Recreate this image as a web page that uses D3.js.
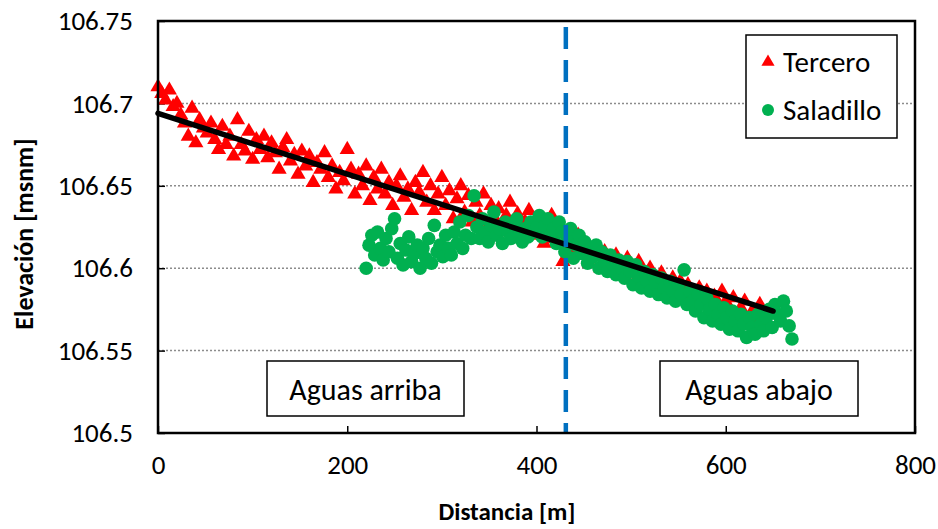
<!DOCTYPE html>
<html>
<head>
<meta charset="utf-8">
<script src="https://cdn.jsdelivr.net/npm/d3@7"></script>
<style>
  html, body { margin: 0; padding: 0; background: #fff; }
  svg text { font-family: Carlito, Lato, "Liberation Sans", sans-serif; fill: #000; }
</style>
</head>
<body>
<svg id="chart" width="938" height="529"></svg>
<script>
// Perfil de elevación: Tercero y Saladillo
const xTicks = [0, 200, 400, 600, 800];
const yTicks = [106.5, 106.55, 106.6, 106.65, 106.7, 106.75];

const terceroDist = [
  0,4,8,12,16,20,24,28,32,36,
  40,44,48,52,56,60,64,68,72,76,
  80,84,88,92,96,100,104,108,112,116,
  120,124,128,132,136,140,144,148,152,156,
  160,164,168,172,176,180,184,188,192,196,
  200,204,208,212,216,220,224,228,232,236,
  240,244,248,252,256,260,264,268,272,276,
  280,284,288,292,296,300,304,308,312,316,
  320,324,328,332,336,340,344,348,352,356,
  360,364,368,372,376,380,384,388,392,396,
  400,404,408,412,416,420,424,428,432,436,
  440,444,448,452,456,460,464,468,472,476,
  480,484,488,492,496,500,504,508,512,516,
  520,524,528,532,536,540,544,548,552,556,
  560,564,568,572,576,580,584,588,592,596,
  600,604,608,612,616,620,624,628,632,636,
  640,644,648
];
const terceroElev = [
  106.710,106.706,106.702,106.708,106.698,106.700,106.693,106.688,106.680,106.697,
  106.676,106.690,106.685,106.682,106.688,106.678,106.672,106.686,106.675,106.680,
  106.668,106.690,106.675,106.671,106.683,106.666,106.678,106.672,106.680,106.667,
  106.676,106.670,106.660,106.673,106.678,106.665,106.669,106.657,106.671,106.662,
  106.668,106.652,106.664,106.660,106.670,106.655,106.662,106.648,106.658,106.653,
  106.672,106.660,106.645,106.657,106.650,106.662,106.641,106.655,106.648,106.660,
  106.645,106.652,106.638,106.650,106.656,106.643,106.648,106.635,106.652,106.646,
  106.658,106.640,106.650,106.635,106.645,106.655,106.638,106.647,106.630,106.642,
  106.650,106.634,106.644,106.628,106.640,106.632,106.645,106.625,106.638,106.630,
  106.636,106.622,106.632,106.640,106.626,106.633,106.618,106.628,106.635,106.620,
  106.630,106.624,106.615,106.626,106.632,106.618,106.622,106.604,106.615,106.620,
  106.612,106.620,106.608,106.615,106.603,106.612,106.607,106.600,106.610,106.604,
  106.598,106.608,106.602,106.595,106.606,106.600,106.592,106.604,106.596,106.590,
  106.600,106.594,106.588,106.597,106.590,106.585,106.594,106.588,106.592,106.582,
  106.590,106.584,106.578,106.588,106.580,106.586,106.575,106.583,106.578,106.586,
  106.580,106.572,106.582,106.568,106.576,106.580,106.566,106.574,106.570,106.578,
  106.572,106.565,106.576
];

const saladilloDist = [
  220,223,226,229,232,235,238,241,244,247,
  250,253,256,259,262,265,268,271,274,277,
  280,283,286,289,292,295,298,301,304,307,
  310,313,316,319,322,325,328,331,334,337,
  340,343,346,349,352,355,358,361,364,367,
  370,373,376,379,382,385,388,391,394,397,
  400,403,406,409,412,415,418,421,424,427,
  430,433,436,439,442,445,448,451,454,457,
  460,463,466,469,472,475,478,481,484,487,
  490,493,496,499,502,505,508,511,514,517,
  520,523,526,529,532,535,538,541,544,547,
  550,553,556,559,562,565,568,571,574,577,
  580,583,586,589,592,595,598,601,604,607,
  610,613,616,619,622,625,628,631,634,637,
  640,643,646,649,652,655,658,661,664,667,
  670
];
const saladilloElev = [
  106.600,106.614,106.620,106.608,106.622,106.612,106.605,106.618,106.610,106.624,
  106.630,106.606,106.615,106.602,106.611,106.619,106.604,106.609,106.614,106.600,
  106.612,106.606,106.618,106.603,106.626,106.610,106.614,106.607,106.620,106.612,
  106.608,106.622,106.615,106.628,106.612,106.620,106.632,106.618,106.644,106.625,
  106.618,106.630,106.622,106.616,106.626,106.634,106.620,106.624,106.615,106.628,
  106.622,106.618,106.626,106.630,106.620,106.616,106.624,106.619,106.628,106.622,
  106.625,106.632,106.619,106.626,106.630,106.620,106.624,106.615,106.628,106.622,
  106.610,106.618,106.624,106.606,106.614,106.620,106.609,106.616,106.603,106.612,
  106.607,106.614,106.600,106.610,106.604,106.598,106.608,106.602,106.596,106.605,
  106.600,106.594,106.604,106.598,106.590,106.602,106.595,106.588,106.598,106.592,
  106.586,106.596,106.590,106.584,106.594,106.588,106.582,106.592,106.586,106.580,
  106.590,106.584,106.599,106.578,106.586,106.580,106.574,106.584,106.578,106.570,
  106.582,106.575,106.568,106.578,106.572,106.566,106.576,106.570,106.563,106.574,
  106.568,106.562,106.572,106.566,106.558,106.570,106.564,106.560,106.572,106.566,
  106.562,106.570,106.575,106.564,106.578,106.572,106.568,106.580,106.574,106.565,
  106.557
];

// Linear fit drawn over the Tercero profile
const trendDist = [0, 650];
const trendElev = [106.694, 106.574];

// Boundary between upstream and downstream reaches
const boundaryDist = 431;

const svg = d3.select("#chart");
const plotLeft = 158, plotRight = 915, plotTop = 21, plotBottom = 433;

const x = d3.scaleLinear().domain([0, 800]).range([plotLeft, plotRight]);
const y = d3.scaleLinear().domain([106.5, 106.75]).range([plotBottom, plotTop]);

// Horizontal dotted gridlines
svg.append("g")
  .selectAll("line")
  .data(yTicks.slice(1, -1))
  .join("line")
  .attr("x1", plotLeft).attr("x2", plotRight)
  .attr("y1", d => y(d)).attr("y2", d => y(d))
  .attr("stroke", "#8c8c8c")
  .attr("stroke-width", 1.5)
  .attr("stroke-dasharray", "2,2");

// Axes (inward ticks)
const yAxis = d3.axisLeft(y).tickValues(yTicks).tickSize(-7).tickPadding(25)
  .tickFormat(d3.format("~g"));
const xAxis = d3.axisBottom(x).tickValues(xTicks).tickSize(-7).tickPadding(22)
  .tickFormat(d3.format("d"));

const gy = svg.append("g").attr("transform", `translate(${plotLeft},0)`).call(yAxis);
const gx = svg.append("g").attr("transform", `translate(0,${plotBottom})`).call(xAxis);
[gy, gx].forEach(g => {
  g.select(".domain").remove();
  g.selectAll(".tick line").attr("stroke", "#000").attr("stroke-width", 1.5);
  g.selectAll(".tick text").style("font-size", "27px").attr("fill", "#000");
});

// Scatter: Tercero (triangles)
const triangle = d3.symbol().type(d3.symbolTriangle).size(100);
svg.append("g")
  .selectAll("path")
  .data(d3.range(terceroDist.length))
  .join("path")
  .attr("d", triangle)
  .attr("transform", i => `translate(${x(terceroDist[i])},${y(terceroElev[i])})`)
  .attr("fill", "#ff0000");

// Scatter: Saladillo (circles)
svg.append("g")
  .selectAll("circle")
  .data(d3.range(saladilloDist.length))
  .join("circle")
  .attr("cx", i => x(saladilloDist[i]))
  .attr("cy", i => y(saladilloElev[i]))
  .attr("r", 6.8)
  .attr("fill", "#00b050");

// Trend line
svg.append("line")
  .attr("x1", x(trendDist[0])).attr("y1", y(trendElev[0]))
  .attr("x2", x(trendDist[1])).attr("y2", y(trendElev[1]))
  .attr("stroke", "#000").attr("stroke-width", 5.5).attr("stroke-linecap", "round");

// Vertical dashed boundary
svg.append("line")
  .attr("x1", x(boundaryDist)).attr("x2", x(boundaryDist))
  .attr("y1", plotTop + 6).attr("y2", plotBottom)
  .attr("stroke", "#0070c0").attr("stroke-width", 4.5)
  .attr("stroke-dasharray", "22,11");

// Plot frame
svg.append("rect")
  .attr("x", plotLeft).attr("y", plotTop)
  .attr("width", plotRight - plotLeft).attr("height", plotBottom - plotTop)
  .attr("fill", "none").attr("stroke", "#000").attr("stroke-width", 2.5);

// Reach labels
const reaches = [
  { text: "Aguas arriba", x0: 267, x1: 464 },
  { text: "Aguas abajo", x0: 660, x1: 858 }
];
reaches.forEach(r => {
  svg.append("rect")
    .attr("x", r.x0).attr("y", 361)
    .attr("width", r.x1 - r.x0).attr("height", 55)
    .attr("fill", "#fff").attr("stroke", "#000").attr("stroke-width", 1.5);
  svg.append("text")
    .attr("x", (r.x0 + r.x1) / 2).attr("y", 389)
    .attr("text-anchor", "middle").attr("dominant-baseline", "central")
    .style("font-size", "30px")
    .text(r.text);
});

// Legend
const legend = svg.append("g");
legend.append("rect")
  .attr("x", 746).attr("y", 35).attr("width", 151).attr("height", 103)
  .attr("fill", "#fff").attr("stroke", "#000").attr("stroke-width", 1.5);
legend.append("path")
  .attr("d", d3.symbol().type(d3.symbolTriangle).size(75))
  .attr("transform", "translate(768,62)")
  .attr("fill", "#ff0000");
legend.append("circle")
  .attr("cx", 768).attr("cy", 110).attr("r", 6)
  .attr("fill", "#00b050");
legend.append("text").attr("x", 783).attr("y", 62)
  .attr("dominant-baseline", "central").style("font-size", "29px").text("Tercero");
legend.append("text").attr("x", 783).attr("y", 110)
  .attr("dominant-baseline", "central").style("font-size", "29px").text("Saladillo");

// Axis titles
svg.append("text")
  .attr("x", 507).attr("y", 511)
  .attr("text-anchor", "middle").attr("dominant-baseline", "central")
  .style("font-size", "25px").style("font-weight", "bold")
  .text("Distancia [m]");
svg.append("text")
  .attr("transform", "translate(24,234) rotate(-90)")
  .attr("text-anchor", "middle").attr("dominant-baseline", "central")
  .style("font-size", "26px").style("font-weight", "bold")
  .text("Elevación [msnm]");
</script>
</body>
</html>
